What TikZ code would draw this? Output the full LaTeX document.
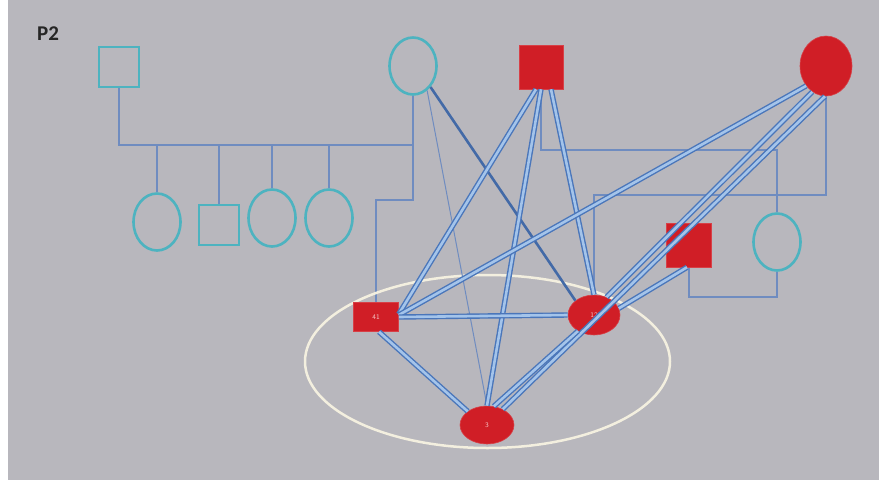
\documentclass[tikz,border=0pt]{standalone}
\usepackage{fontspec}
\setmainfont{Carlito}
\usetikzlibrary{shapes.geometric,backgrounds}
\definecolor{bg}{HTML}{B8B7BD}
\definecolor{cyanline}{HTML}{4DB3C0}
\definecolor{pedline}{HTML}{6F8CC0}
\definecolor{redfill}{HTML}{D01E26}
\definecolor{edgeblue}{HTML}{4A76BA}
\definecolor{coreblue}{HTML}{A4C4EA}
\definecolor{ringcol}{HTML}{F3EFDF}
\definecolor{labcol}{HTML}{F4C4C4}
\begin{document}
\begin{tikzpicture}[x=1pt,y=-1pt,
  male/.style={rectangle,draw=cyanline,line width=2.6pt,minimum size=40pt,inner sep=0pt},
  female/.style={ellipse,draw=cyanline,line width=2.6pt,minimum width=47pt,minimum height=57pt,inner sep=0pt},
  rmale/.style={rectangle,fill=redfill,draw=redfill!85!white,line width=0.6pt,inner sep=0pt,
    font=\sffamily\fontsize{7}{7}\selectfont,text=labcol},
  rfemale/.style={ellipse,fill=redfill,draw=redfill!85!white,line width=0.6pt,inner sep=0pt,
    font=\sffamily\fontsize{7}{7}\selectfont,text=labcol},
  ped/.style={draw=pedline,line width=1.3pt},
  dbl/.style={draw=edgeblue,line width=1.4pt,double=coreblue,double distance=2.6pt},
  sgl/.style={draw=edgeblue!90!black,line width=2.6pt},
  thin/.style={draw=pedline,line width=1pt}]
\useasboundingbox (0,0) rectangle (879,480);
% nodes
\node[male] (sq1) at (119,67) {};
\node[female] (c1) at (413,66) {};
\node[rmale,minimum size=44pt] (rsq1) at (541,67) {};
\node[rfemale,minimum width=52pt,minimum height=60pt] (rc1) at (826,66) {};
\node[female] (ch1) at (157,222) {};
\node[male] (ch2) at (219,225) {};
\node[female] (ch3) at (272,218) {};
\node[female] (ch4) at (329,218) {};
\node[rmale,minimum width=45pt,minimum height=29pt] (n41) at (376,317) {41};
\node[rfemale,minimum width=52pt,minimum height=40pt] (n12) at (594,315) {12};
\node[rfemale,minimum width=54pt,minimum height=38pt] (n3) at (487,425) {3};
\node[rmale,minimum width=45pt,minimum height=44pt] (rsq2) at (689,245) {};
\node[female] (c2) at (777,242) {};
\node[font=\bfseries\fontsize{21}{21}\selectfont,text=black!85] (p2) at (48,34) {P2};
\begin{scope}[on background layer]
  \fill[white] (0,0) rectangle (879,480);
  \fill[bg] (8,0) rectangle (879,480);
  % pedigree lines
  \draw[ped] (sq1.south) -- (sq1.south |- 0,145) -- (c1.south |- 0,145);
  \draw[ped] (c1.south) -- (c1.south |- 0,200) -| (n41.north);
  \foreach \c in {ch1,ch2,ch3,ch4} \draw[ped] (\c.north) -- (\c.north |- 0,145);
  \draw[ped] (rsq1.south) -- (rsq1.south |- 0,150) -| (c2.north);
  \draw[ped] (rc1.south) -- (rc1.south |- 0,195) -| (n12.north);
  \draw[ped] (rsq2.south) -- (rsq2.south |- 0,297) -| (c2.south);
  % ring
  \draw[ringcol,line width=2.5pt] (487.5,361.5) ellipse [x radius=182.5,y radius=86.5];
\end{scope}
% connectors
\draw[thin] (c1.-60) -- (n3.north);
\draw[sgl] (c1.south east) -- (n12.north west);
\draw[dbl] ([xshift=-5pt]rsq1.south) -- ([yshift=3pt]n41.east);
\draw[dbl] (rsq1.south) -- (n3.north);
\draw[dbl] ([xshift=10pt]rsq1.south) -- (n12.north);
\draw[dbl] (rc1.225) -- ([yshift=2pt]n41.east);
\draw[dbl] (rc1.242) -- (n12.55);
\draw[dbl] (rc1.268) -- (n3.45);
\draw[dbl] (n41.east) -- (n12.west);
\draw[dbl] ([xshift=3pt]n41.south) -- (n3.north west);
\draw[dbl] (n12.225) -- (n3.70);
\draw[dbl] (n12.15) -- ([xshift=-2pt]rsq2.south);
\end{tikzpicture}
\end{document}
